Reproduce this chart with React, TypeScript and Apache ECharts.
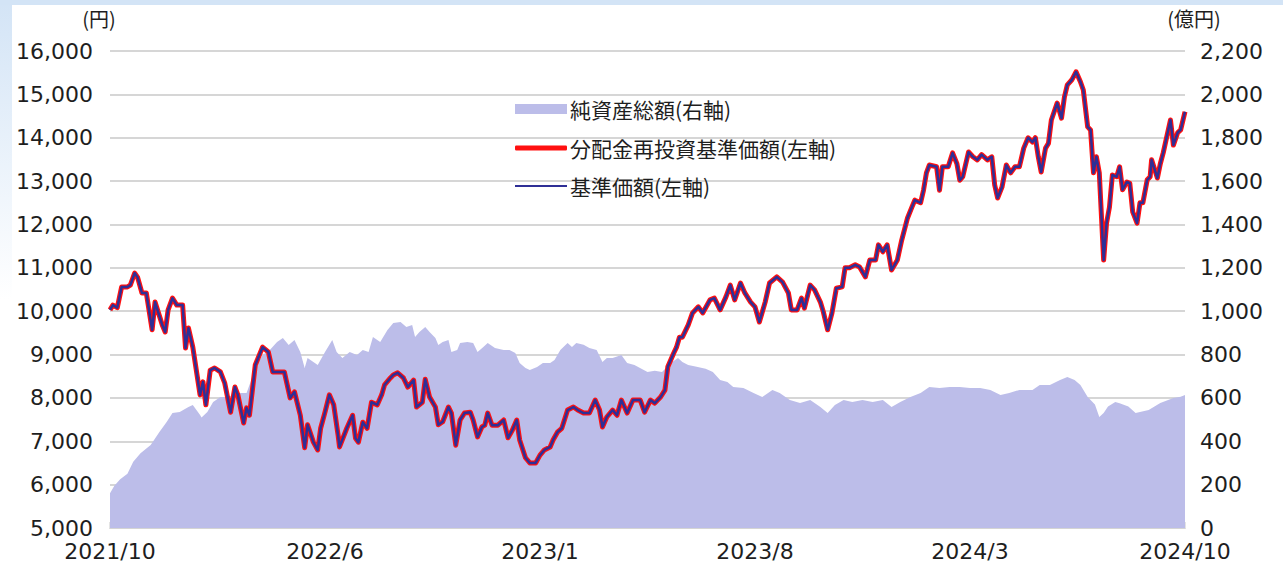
import React, { useEffect, useRef } from "react";
import * as echarts from "echarts";

// X axis: trading-day index since launch, labelled at equal steps
const xTickLabels = ["2021/10", "2022/6", "2023/1", "2023/8", "2024/3", "2024/10"];
const tradingDaysTotal = 740;
const tickStep = 148;

const leftAxisName = "(円)";
const rightAxisName = "(億円)";
const seriesNames = ["純資産総額(右軸)", "分配金再投資基準価額(左軸)", "基準価額(左軸)"];

// 純資産総額 (億円): [trading day, value]
const netAssets: [number, number][] = [
  [0, 160], [3, 195], [7, 225], [12, 250], [16, 305], [21, 345], [28, 383], [34, 443], [39, 489],
  [43, 530], [48, 535], [54, 558], [57, 567], [62, 521], [63, 510], [67, 535], [71, 581], [76, 604],
  [81, 604], [85, 613], [89, 623], [94, 623], [96, 660], [101, 752], [105, 798], [110, 821], [115, 858],
  [119, 876], [123, 844], [127, 867], [131, 812], [134, 738], [136, 784], [140, 766], [143, 752],
  [148, 812], [153, 867], [156, 812], [160, 784], [165, 812], [170, 798], [174, 821], [178, 812],
  [181, 881], [186, 858], [191, 913], [195, 945], [200, 950], [204, 927], [208, 936], [210, 881],
  [213, 904], [217, 927], [220, 904], [224, 876], [226, 844], [229, 858], [233, 867], [235, 812],
  [239, 821], [241, 853], [246, 858], [250, 853], [253, 812], [257, 835], [260, 853], [265, 830],
  [271, 821], [275, 821], [279, 807], [282, 761], [286, 738], [289, 729], [294, 743], [298, 761],
  [303, 761], [306, 775], [310, 821], [315, 853], [318, 835], [321, 853], [326, 845], [330, 830],
  [335, 821], [339, 766], [342, 784], [346, 784], [352, 798], [356, 761], [361, 752], [370, 720],
  [375, 725], [380, 720], [386, 761], [391, 784], [394, 766], [398, 752], [403, 745], [410, 735],
  [415, 720], [420, 683], [425, 673], [429, 650], [436, 646], [443, 623], [449, 604], [456, 636],
  [461, 623], [468, 590], [475, 577], [482, 590], [489, 558], [494, 530], [499, 567], [505, 590],
  [511, 581], [518, 590], [525, 581], [532, 590], [538, 558], [544, 581], [551, 604], [558, 623],
  [564, 650], [571, 646], [578, 650], [585, 650], [592, 646], [599, 646], [606, 637], [613, 613],
  [619, 623], [626, 637], [635, 637], [640, 660], [647, 660], [654, 683], [659, 697], [664, 683],
  [668, 660], [673, 604], [678, 570], [681, 512], [684, 530], [687, 560], [692, 581], [695, 575],
  [701, 560], [706, 530], [715, 544], [723, 577], [732, 600], [737, 605], [740, 613],
];

// 分配金再投資基準価額 (円): [trading day, value]
const reinvestedNav: [number, number][] = [
  [0, 10030], [2, 10140], [5, 10080], [8, 10560], [12, 10560], [14, 10600], [17, 10880], [19, 10780],
  [22, 10420], [25, 10420], [29, 9570], [31, 10210], [36, 9680], [38, 9520], [40, 10030], [43, 10300],
  [46, 10140], [50, 10140], [52, 9150], [54, 9610], [57, 9170], [62, 8070], [64, 8370], [66, 7840],
  [69, 8640], [72, 8690], [76, 8600], [79, 8340], [83, 7670], [86, 8250], [88, 8070], [92, 7420],
  [94, 7770], [96, 7600], [100, 8760], [105, 9170], [109, 9060], [112, 8600], [117, 8600], [120, 8600],
  [124, 8000], [127, 8140], [131, 7600], [134, 6850], [136, 7380], [140, 6980], [143, 6800], [145, 7300],
  [148, 7670], [151, 8070], [154, 7840], [157, 7140], [158, 6870], [163, 7300], [167, 7600], [169, 7070],
  [171, 6980], [174, 7440], [177, 7300], [180, 7900], [184, 7840], [187, 8070], [189, 8300], [193, 8460],
  [195, 8530], [198, 8580], [202, 8460], [205, 8250], [209, 8410], [211, 7790], [215, 7900], [217, 8430],
  [220, 8020], [224, 7790], [226, 7380], [229, 7450], [233, 7790], [235, 7650], [238, 6910], [241, 7490],
  [244, 7650], [248, 7670], [250, 7490], [253, 7100], [256, 7330], [258, 7370], [260, 7650], [263, 7370],
  [267, 7370], [271, 7490], [274, 7080], [277, 7260], [280, 7490], [282, 7030], [286, 6620], [289, 6500],
  [293, 6500], [296, 6680], [299, 6800], [303, 6870], [305, 7030], [308, 7210], [311, 7300], [315, 7720],
  [319, 7790], [322, 7720], [326, 7650], [330, 7650], [334, 7950], [337, 7720], [339, 7330], [342, 7560],
  [346, 7720], [349, 7600], [352, 7950], [356, 7650], [360, 7950], [365, 7950], [368, 7670], [372, 7950],
  [375, 7880], [379, 8020], [382, 8180], [384, 8720], [388, 9030], [390, 9170], [392, 9400], [394, 9400],
  [398, 9680], [401, 9960], [405, 10100], [408, 9960], [413, 10260], [416, 10300], [420, 10030], [424, 10330],
  [427, 10600], [430, 10260], [434, 10650], [437, 10420], [441, 10210], [444, 10100], [447, 9750], [451, 10210],
  [454, 10650], [459, 10790], [463, 10670], [467, 10420], [469, 10030], [473, 10030], [476, 10300], [478, 10070],
  [482, 10600], [485, 10490], [489, 10210], [491, 9990], [494, 9570], [497, 9960], [500, 10530], [504, 10560],
  [506, 11000], [509, 11000], [513, 11070], [516, 11020], [520, 10790], [523, 11180], [527, 11180], [529, 11530],
  [532, 11370], [535, 11530], [538, 10950], [542, 11180], [545, 11640], [549, 12150], [552, 12400], [554, 12560],
  [558, 12500], [560, 12790], [562, 13190], [564, 13370], [569, 13330], [571, 12790], [573, 13330], [577, 13330],
  [580, 13650], [583, 13400], [585, 13020], [587, 13100], [591, 13670], [594, 13560], [597, 13490], [600, 13610],
  [604, 13490], [607, 13560], [609, 12910], [611, 12610], [614, 12860], [617, 13370], [620, 13190], [623, 13330],
  [626, 13330], [629, 13760], [632, 14000], [635, 13900], [637, 14000], [639, 13560], [641, 13210], [644, 13760],
  [646, 13870], [648, 14410], [652, 14800], [655, 14450], [657, 14940], [659, 15220], [662, 15330], [665, 15520],
  [668, 15290], [670, 15100], [673, 14250], [675, 14180], [677, 13190], [679, 13560], [681, 13190], [684, 11180],
  [686, 12030], [688, 12400], [690, 13140], [693, 13100], [695, 13330], [697, 12800], [700, 12980], [702, 12950],
  [704, 12290], [707, 12030], [709, 12500], [711, 12500], [714, 13030], [716, 13100], [717, 13490], [721, 13070],
  [723, 13400], [725, 13650], [730, 14410], [732, 13830], [735, 14120], [737, 14180], [740, 14600],
];

// 基準価額 (円): no distributions were paid, so it coincides with the reinvested NAV
const baseNav: [number, number][] = reinvestedNav;

const AREA_COLOR = "#bcbde9";
const RED = "#ff1010";
const NAVY = "#2f2f96";
const TEXT = "#1e1e1e";
const NUM_FONT = "'DejaVu Sans', 'Noto Sans CJK JP', sans-serif";
const JP_FONT = "'Noto Sans CJK JP', 'DejaVu Sans', sans-serif";

export default function App() {
  const ref = useRef<HTMLDivElement>(null);

  useEffect(() => {
    if (!ref.current) return;
    const chart = echarts.init(ref.current, undefined, { renderer: "svg" });

    const legendBase = {
      orient: "vertical" as const,
      left: 515,
      padding: 0,
      itemWidth: 52,
      selectedMode: false,
      textStyle: { fontSize: 21, lineHeight: 24, color: TEXT, fontFamily: JP_FONT, padding: [0, 0, 0, -2] },
    };

    chart.setOption({
      animation: false,
      backgroundColor: "#ffffff",
      grid: { left: 110, right: 98, top: 51, bottom: 36, containLabel: false },
      graphic: [
        {
          type: "rect",
          left: 0,
          top: 0,
          shape: { width: 1283, height: 5 },
          style: { fill: "#d3e4f6" },
          silent: true,
        },
        {
          type: "rect",
          left: 0,
          top: 0,
          shape: { width: 12, height: 300 },
          style: {
            fill: new echarts.graphic.LinearGradient(0, 0, 0, 1, [
              { offset: 0, color: "#d3e4f6" },
              { offset: 1, color: "rgba(211,228,246,0)" },
            ]),
          },
          silent: true,
        },
        {
          type: "text",
          x: 99,
          y: 18,
          style: { text: leftAxisName, fontSize: 20, fill: TEXT, fontFamily: JP_FONT, textAlign: "center", textVerticalAlign: "middle" },
        },
        {
          type: "text",
          x: 1194,
          y: 18,
          style: { text: rightAxisName, fontSize: 20, fill: TEXT, fontFamily: JP_FONT, textAlign: "center", textVerticalAlign: "middle" },
        },
      ],
      legend: [
        { ...legendBase, top: 97, itemHeight: 10, data: [{ name: seriesNames[0], icon: "rect" }] },
        { ...legendBase, top: 136, itemHeight: 5, data: [{ name: seriesNames[1], icon: "roundRect" }] },
        { ...legendBase, top: 174, itemHeight: 2, data: [{ name: seriesNames[2], icon: "rect" }] },
      ],
      xAxis: {
        type: "value",
        min: 0,
        max: tradingDaysTotal,
        interval: tickStep,
        splitLine: { show: false },
        axisLine: { show: true, onZero: false, lineStyle: { color: "#d4d4d4", width: 2 } },
        axisTick: { show: true, inside: true, length: 6, lineStyle: { color: "#e4e4e4", width: 2 } },
        axisLabel: {
          show: true,
          margin: 12,
          fontSize: 22,
          color: TEXT,
          fontFamily: NUM_FONT,
          showMinLabel: true,
          showMaxLabel: true,
          formatter: (v: number) => xTickLabels[Math.round(v / tickStep)] ?? "",
        },
      },
      yAxis: [
        {
          type: "value",
          min: 5000,
          max: 16000,
          interval: 1000,
          axisLine: { show: false },
          axisTick: { show: false },
          splitLine: { show: true, lineStyle: { color: "#d6d6d6", width: 2 } },
          axisLabel: {
            margin: 17,
            fontSize: 22,
            color: TEXT,
            fontFamily: NUM_FONT,
            formatter: (v: number) => v.toLocaleString("en-US"),
          },
        },
        {
          type: "value",
          min: 0,
          max: 2200,
          interval: 200,
          position: "right",
          axisLine: { show: false },
          axisTick: { show: false },
          splitLine: { show: false },
          axisLabel: {
            margin: 15,
            fontSize: 22,
            color: TEXT,
            fontFamily: NUM_FONT,
            formatter: (v: number) => v.toLocaleString("en-US"),
          },
        },
      ],
      series: [
        {
          name: seriesNames[0],
          type: "line",
          yAxisIndex: 1,
          data: netAssets,
          showSymbol: false,
          color: AREA_COLOR,
          lineStyle: { width: 0, color: AREA_COLOR },
          areaStyle: { color: AREA_COLOR, opacity: 1 },
          z: 1,
          silent: true,
        },
        {
          name: seriesNames[1],
          type: "line",
          yAxisIndex: 0,
          data: reinvestedNav,
          showSymbol: false,
          color: RED,
          lineStyle: { width: 5, color: RED, join: "round" },
          z: 2,
          silent: true,
        },
        {
          name: seriesNames[2],
          type: "line",
          yAxisIndex: 0,
          data: baseNav,
          showSymbol: false,
          color: NAVY,
          lineStyle: { width: 2.5, color: NAVY, join: "round" },
          z: 3,
          silent: true,
        },
      ],
    });

    return () => chart.dispose();
  }, []);

  return (
    <div
      ref={ref}
      style={{ position: "absolute", left: 0, top: 0, width: 1283, height: 564 }}
    />
  );
}
